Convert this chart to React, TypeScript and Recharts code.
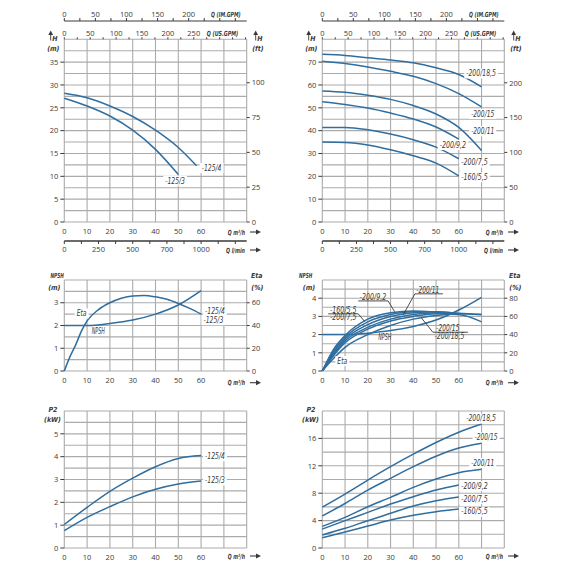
import React from 'react'
import {
  LineChart,
  Line,
  XAxis,
  YAxis,
  CartesianGrid,
  ReferenceDot,
  ReferenceLine,
} from 'recharts'

// flow points Q (m³/h)
const qH125_4 = [0, 10, 20, 30, 40, 50, 58]
const qH125_3 = [0, 10, 20, 30, 40, 50]
const q60 = [0, 10, 20, 30, 40, 50, 60]
const q70 = [0, 10, 20, 30, 40, 50, 60, 70]
const qEtaSmall = [0, 2.5, 5, 7.5, 10, 15, 20, 25, 30, 35, 40, 45, 50, 55, 60]
const qEta60 = [0, 5, 10, 20, 30, 40, 50, 60]
const qEta70 = [0, 5, 10, 20, 30, 40, 50, 60, 70]

// head H (m)
const head125_4 = [28.2, 27.2, 25.4, 23.1, 20.1, 16.3, 12.3]
const head125_3 = [27.1, 25.4, 23.2, 20.1, 15.9, 10.4]
const head200_185 = [73.4, 72.9, 71.9, 70.9, 69.7, 67.5, 64.6, 59.2]
const head200_15 = [70.4, 69.4, 67.9, 66.0, 63.8, 60.6, 56.2, 50.4]
const head200_11 = [57.4, 56.8, 55.5, 53.7, 51.0, 47.3, 41.4, 31.3]
const head200_92 = [52.7, 51.5, 49.9, 47.7, 45.1, 41.6, 36.3]
const head200_75 = [41.4, 41.4, 40.4, 38.5, 36.0, 32.8, 27.7]
const head160_55 = [35.0, 34.8, 33.7, 31.6, 29.0, 25.8, 20.2]

// NPSH (m) and Eta (%)
const npshSmall = [2.0, 2.0, 2.09, 2.24, 2.5, 2.9, 3.53]
const etaSmall = [0, 12.6, 23, 35, 44, 54, 60, 64, 66, 66.4, 65.2, 63, 59.4, 55, 50]
const npshLarge = [2.0, 2.0, 2.08, 2.22, 2.45, 2.8, 3.35, 4.05]
const eta160_55 = [0, 24, 39, 57, 64, 66, 64.5, 62]
const eta200_75 = [0, 22, 37, 54, 62, 65, 65, 63]
const eta200_92 = [0, 20, 35, 51, 60, 64, 65, 63]
const eta200_11 = [0, 18, 33, 48, 57, 62, 64, 63.5, 62]
const eta200_15 = [0, 17, 31, 46, 55, 60, 63, 62, 54]
const eta200_185 = [0, 14, 26, 40, 50, 57, 61, 63, 62]

// P2 (kW)
const p2_125_4 = [1.03, 1.78, 2.48, 3.06, 3.56, 3.92, 4.05]
const p2_125_3 = [0.76, 1.34, 1.81, 2.24, 2.57, 2.8, 2.93]
const p2_200_185 = [5.98, 7.88, 9.92, 11.87, 13.7, 15.4, 16.9, 18.1]
const p2_200_15 = [4.67, 6.5, 8.46, 10.17, 11.87, 13.4, 14.6, 15.3]
const p2_200_11 = [3.16, 4.47, 6.03, 7.39, 8.85, 10.07, 11.0, 11.5]
const p2_200_92 = [2.77, 3.99, 5.2, 6.42, 7.49, 8.46, 9.19]
const p2_200_75 = [1.9, 2.87, 3.99, 5.06, 6.13, 6.9, 7.44]
const p2_160_55 = [1.5, 2.33, 3.2, 4.08, 4.77, 5.3, 5.69]

// axis ticks
const qTicks = [0, 10, 20, 30, 40, 50, 60, 70, 80]
const qLabeled = [0, 10, 20, 30, 40, 50, 60]
const usTicks = [0, 25, 50, 75, 100, 125, 150, 175, 200, 225, 250, 275, 300, 325, 350]
const usLabeled = [0, 50, 100, 150, 200, 250]
const imTicks = [0, 25, 50, 75, 100, 125, 150, 175, 200, 225, 250, 275]
const imLabeled = [0, 50, 100, 150, 200]
const lminTicks = [0, 125, 250, 375, 500, 625, 750, 875, 1000, 1125, 1250]
const lminLabels = ['0', '', '250', '', '500', '', '700', '', '1000', '', '']
const hSmallTicks = [0, 2.5, 5, 7.5, 10, 12.5, 15, 17.5, 20, 22.5, 25, 27.5, 30, 32.5, 35, 37.5, 40]
const hSmallLabeled = [0, 5, 10, 15, 20, 25, 30, 35]
const hLargeTicks = [0, 5, 10, 15, 20, 25, 30, 35, 40, 45, 50, 55, 60, 65, 70, 75, 80]
const hLargeLabeled = [0, 10, 20, 30, 40, 50, 60, 70]
const ftSmallTicks = [0, 25, 50, 75, 100]
const ftLargeTicks = [0, 50, 100, 150, 200]
const npshSmallTicks = [0, 0.5, 1, 1.5, 2, 2.5, 3, 3.5, 4]
const npshSmallLabeled = [0, 1, 2, 3]
const npshLargeTicks = [0, 0.5, 1, 1.5, 2, 2.5, 3, 3.5, 4, 4.5, 5]
const npshLargeLabeled = [0, 1, 2, 3, 4]
const etaSmallTicks = [0, 20, 40, 60]
const etaLargeTicks = [0, 20, 40, 60, 80]
const p2SmallTicks = [0, 0.5, 1, 1.5, 2, 2.5, 3, 3.5, 4, 4.5, 5, 5.5, 6]
const p2SmallLabeled = [0, 1, 2, 3, 4, 5]
const p2LargeTicks = [0, 2, 4, 6, 8, 10, 12, 14, 16, 18, 20]
const p2LargeLabeled = [0, 4, 8, 12, 16]

const BLUE = '#2f6e9f'
const GRID = '#ababab'
const INK = '#3a3a3a'
const NUM_FONT = "'Open Sans', 'DejaVu Sans', sans-serif"
const TAG_FONT = "'DejaVu Sans Condensed', 'Open Sans', sans-serif"

const pts = (q: number[], v: number[]) => q.map((x, i) => ({ q: x, v: v[i] }))
const only = (labeled: number[]) => (v: number) => (labeled.includes(v) ? String(v) : '')

const numText = { fontSize: 7.5, fontFamily: NUM_FONT, fill: INK }

const leftTick = (show: (v: number) => string) => (p: any) => {
  const t = show(p.payload.value)
  if (!t) return <g />
  return (
    <g>
      <line x1={p.x + 2} x2={p.x + 6} y1={p.y} y2={p.y} stroke={INK} />
      <text x={p.x} y={p.y} dy={2.7} textAnchor="end" {...numText}>{t}</text>
    </g>
  )
}

const rightTick = (p: any) => (
  <g>
    <line x1={p.x - 5} x2={p.x - 2} y1={p.y} y2={p.y} stroke={INK} />
    <text x={p.x} y={p.y} dy={2.7} textAnchor="start" {...numText}>{p.payload.value}</text>
  </g>
)

const bottomTick = (show: (v: number) => string) => (p: any) => (
  <text x={p.x} y={p.y} dy={5.3} textAnchor="middle" {...numText}>{show(p.payload.value)}</text>
)

const topTick = (show: (v: number) => string) => (p: any) => (
  <text x={p.x} y={p.y} textAnchor="middle" {...numText}>{show(p.payload.value)}</text>
)

const lminShow = (v: number) => lminLabels[lminTicks.indexOf(v)] ?? ''

const tagShape = (text: string, boxed = true) => (p: any) => {
  const w = text.length * 3.3
  return (
    <g>
      {boxed && <rect x={p.cx - w / 2 - 2} y={p.cy - 5} width={w + 4} height={10} fill="#fff" />}
      <text x={p.cx - w / 2} y={p.cy} dy={2.8} textLength={w} lengthAdjust="spacingAndGlyphs"
        fontSize={8} fontStyle="italic" fontFamily={TAG_FONT} fill={INK}>{text}</text>
    </g>
  )
}

type Series = { q: number[]; v: number[]; axis?: string }
type Tag = { text: string; x: number; y: number; boxed?: boolean }
type Seg = [number, number, number, number]

type PanelProps = {
  left: number
  top: number
  height: number
  mTop: number
  side: 'L' | 'R'
  gpm?: boolean
  yDomain: [number, number]
  yTicks: number[]
  yLabeled: number[]
  right?: { id: string; domain: [number, number]; ticks: number[] }
  series: Series[]
  tags: Tag[]
  segs?: Seg[]
}

// invisible carrier so an extra unit axis gets its ticks laid out
const carrier = (id: string, ticks: number[]) => (
  <Line key={'c' + id} xAxisId={id} data={ticks.map((t) => ({ q: t }))} dataKey="v"
    stroke="none" dot={false} activeDot={false} legendType="none" isAnimationActive={false} />
)

function Panel(p: PanelProps) {
  const leftW = p.side === 'L' ? 64.3 : 37.3
  const rightW = p.side === 'L' ? 38.3 : 65.7
  return (
    <div style={{ position: 'absolute', left: p.left, top: p.top }}>
      <LineChart width={285} height={p.height}
        margin={{ top: p.mTop, right: p.right ? 0 : rightW, bottom: 0, left: 0 }}>
        <CartesianGrid stroke={GRID} strokeWidth={1.1} />
        <XAxis dataKey="q" type="number" domain={[0, 80]} ticks={qTicks} interval={0}
          height={p.gpm ? 19 : 20} axisLine={false} tickLine={false} tickSize={4} tickMargin={3}
          tick={bottomTick(only(qLabeled))} />
        {p.gpm && (
          <XAxis xAxisId="lmin" dataKey="q" type="number" domain={[0, 1333.3]} allowDataOverflow
            ticks={lminTicks} interval={0} height={19} stroke={INK}
            axisLine={{ stroke: INK, strokeWidth: 1.3 }}
            tickSize={3} tickMargin={3} tick={bottomTick(lminShow)} />
        )}
        {p.gpm && (
          <XAxis xAxisId="a_us" dataKey="q" orientation="top" type="number" domain={[0, 352.2]}
            allowDataOverflow ticks={usTicks} interval={0} height={18.3} axisLine={false} stroke={INK}
            tickSize={2} tickMargin={1} tick={topTick(only(usLabeled))} />
        )}
        {p.gpm && (
          <XAxis xAxisId="b_im" dataKey="q" orientation="top" type="number" domain={[0, 293.3]}
            allowDataOverflow ticks={imTicks} interval={0} height={21} stroke={INK}
            axisLine={{ stroke: INK, strokeWidth: 1.1 }}
            tickSize={3} tickMargin={1} tick={topTick(only(imLabeled))} />
        )}
        <YAxis type="number" domain={p.yDomain} ticks={p.yTicks} interval={0} width={leftW}
          axisLine={false} tickLine={false} tickSize={4} tickMargin={2}
          tick={leftTick(only(p.yLabeled))} />
        {p.right && (
          <YAxis yAxisId={p.right.id} orientation="right" type="number" domain={p.right.domain}
            allowDataOverflow ticks={p.right.ticks} interval={0} width={rightW}
            axisLine={false} tickLine={false} tickSize={3} tickMargin={2} tick={rightTick} />
        )}
        {p.gpm && carrier('lmin', lminTicks)}
        {p.gpm && carrier('b_im', imTicks)}
        {p.gpm && carrier('a_us', usTicks)}
        {p.series.map((s, i) => (
          <Line key={i} data={pts(s.q, s.v)} dataKey="v" yAxisId={s.axis ?? 0} type="monotone"
            stroke={BLUE} strokeWidth={1.5} dot={false} activeDot={false} isAnimationActive={false} />
        ))}
        {(p.segs ?? []).map((s, i) => (
          <ReferenceLine key={'s' + i} segment={[{ x: s[0], y: s[1] }, { x: s[2], y: s[3] }]}
            stroke={INK} strokeWidth={0.9} ifOverflow="visible" />
        ))}
        {p.tags.map((t, i) => (
          <ReferenceDot key={'t' + i} x={t.x} y={t.y} r={0} ifOverflow="visible"
            shape={tagShape(t.text, t.boxed ?? true)} />
        ))}
      </LineChart>
    </div>
  )
}

const titleText = { fontSize: 7, fontFamily: TAG_FONT, fontStyle: 'italic' as const, fontWeight: 700, fill: INK }

// title text squeezed to the width it takes in the reference
function Title({ x, y, w, children }: { x: number; y: number; w: number; children: string }) {
  return (
    <text x={x} y={y} textLength={w} lengthAdjust="spacingAndGlyphs" {...titleText}>{children}</text>
  )
}

function Arrow({ x, y }: { x: number; y: number }) {
  return (
    <g>
      <line x1={x} x2={x + 7} y1={y} y2={y} stroke={INK} strokeWidth={1.1} />
      <path d={`M${x + 11},${y} L${x + 6},${y - 2.6} L${x + 6},${y + 2.6} Z`} fill={INK} />
    </g>
  )
}

function UpArrow({ x, y }: { x: number; y: number }) {
  return (
    <g>
      <path d={`M${x},${y} L${x - 2.4},${y + 4.5} L${x + 2.4},${y + 4.5} Z`} fill={INK} />
      <line x1={x} x2={x} y1={y + 4} y2={y + 10} stroke={INK} strokeWidth={0.9} />
    </g>
  )
}

function Titles({ dx }: { dx: number }) {
  return (
    <g>
      <Title x={211 + dx} y={17} w={29.7}>Q (IM.GPM)</Title>
      <Title x={206.7 + dx} y={36} w={31.6}>Q (US.GPM)</Title>
      <UpArrow x={50.7 + dx} y={30.5} />
      <text x={52.3 + dx} y={41} {...titleText}>H</text>
      <text x={53.3 + dx} y={50.5} textAnchor="middle" {...titleText}>(m)</text>
      <UpArrow x={255.7 + dx} y={30.5} />
      <text x={257.3 + dx} y={41} {...titleText}>H</text>
      <text x={258 + dx} y={50.5} textAnchor="middle" {...titleText}>(ft)</text>
      <Title x={227.7 + dx} y={234.7} w={17.3}>Q m³/h</Title>
      <Arrow x={250 + dx} y={232} />
      <Title x={226 + dx} y={252.7} w={19}>Q l/min</Title>
      <Arrow x={250 + dx} y={250} />

      <Title x={(dx ? 41 : 50.5) + dx} y={277.5} w={13.3}>NPSH</Title>
      <text x={(dx ? 51 : 54.3) + dx} y={289.5} textAnchor="middle" {...titleText}>(m)</text>
      <text x={256.7 + dx} y={277.5} textAnchor="middle" {...titleText}>Eta</text>
      <text x={257.3 + dx} y={289.5} textAnchor="middle" {...titleText}>(%)</text>
      <Title x={227.7 + dx} y={385.4} w={17.3}>Q m³/h</Title>
      <Arrow x={250 + dx} y={382.7} />

      <text x={53 + dx} y={412} textAnchor="middle" {...titleText}>P2</text>
      <text x={52.5 + dx} y={422} textAnchor="middle" {...titleText}>(kW)</text>
      <Title x={227.7 + dx} y={558.7} w={17.3}>Q m³/h</Title>
      <Arrow x={250 + dx} y={556} />
    </g>
  )
}

export default function App() {
  return (
    <div style={{ position: 'absolute', left: 0, top: 0, width: 570, height: 570, background: '#fff' }}>
      <Panel left={0} top={0} height={260} mTop={0} side="L" gpm
        yDomain={[0, 40]} yTicks={hSmallTicks} yLabeled={hSmallLabeled}
        right={{ id: 'ft', domain: [0, 131.2], ticks: ftSmallTicks }}
        series={[{ q: qH125_4, v: head125_4 }, { q: qH125_3, v: head125_3 }]}
        tags={[{ text: '-125/4', x: 64.6, y: 11.85 }, { text: '-125/3', x: 48.6, y: 9.04 }]} />
      <Panel left={285} top={0} height={260} mTop={0} side="R" gpm
        yDomain={[0, 80]} yTicks={hLargeTicks} yLabeled={hLargeLabeled}
        right={{ id: 'ft', domain: [0, 262.5], ticks: ftLargeTicks }}
        series={[
          { q: q70, v: head200_185 }, { q: q70, v: head200_15 }, { q: q70, v: head200_11 },
          { q: q60, v: head200_92 }, { q: q60, v: head200_75 }, { q: q60, v: head160_55 },
        ]}
        tags={[
          { text: '-200/18,5', x: 69.8, y: 65 }, { text: '-200/15', x: 70.5, y: 47.3 },
          { text: '-200/11', x: 70.5, y: 39.7 }, { text: '-200/9,2', x: 57.4, y: 33.7 },
          { text: '-200/7,5', x: 66.9, y: 26 }, { text: '-160/5,5', x: 66.9, y: 19.6 },
        ]} />
      <Panel left={0} top={260} height={131} mTop={20} side="L"
        yDomain={[0, 4]} yTicks={npshSmallTicks} yLabeled={npshSmallLabeled}
        right={{ id: 'eta', domain: [0, 80], ticks: etaSmallTicks }}
        series={[{ q: q60, v: npshSmall }, { q: qEtaSmall, v: etaSmall, axis: 'eta' }]}
        tags={[
          { text: '-125/4', x: 66.1, y: 2.63 }, { text: '-125/3', x: 65.4, y: 2.23 },
          { text: 'Eta', x: 7.6, y: 2.53 }, { text: 'NPSH', x: 14.9, y: 1.73, boxed: false },
        ]} />
      <Panel left={285} top={260} height={131} mTop={20} side="R"
        yDomain={[0, 5]} yTicks={npshLargeTicks} yLabeled={npshLargeLabeled}
        right={{ id: 'eta', domain: [0, 100], ticks: etaLargeTicks }}
        series={[
          { q: q70, v: npshLarge },
          { q: qEta60, v: eta160_55, axis: 'eta' }, { q: qEta60, v: eta200_75, axis: 'eta' },
          { q: qEta60, v: eta200_92, axis: 'eta' }, { q: qEta70, v: eta200_11, axis: 'eta' },
          { q: qEta70, v: eta200_15, axis: 'eta' }, { q: qEta70, v: eta200_185, axis: 'eta' },
        ]}
        segs={[
          [40.7, 4.24, 53, 4.24], [40.7, 4.24, 35.5, 3.08],
          [15.8, 3.85, 28.9, 3.85], [28.9, 3.85, 31.8, 3.26],
          [2.6, 3.14, 15.8, 3.14], [15.8, 3.14, 18.7, 2.71],
          [48.6, 2.13, 64, 2.13], [48.6, 2.13, 43.5, 2.93],
        ]}
        tags={[
          { text: '-200/11', x: 46.4, y: 4.46, boxed: false }, { text: '-200/9,2', x: 22.3, y: 4.03, boxed: false },
          { text: '-160/5,5', x: 9.2, y: 3.36, boxed: false }, { text: '-200/7,5', x: 9.2, y: 2.93, boxed: false },
          { text: '-200/15', x: 55.2, y: 2.35, boxed: false }, { text: '-200/18,5', x: 55.9, y: 1.89, boxed: false },
          { text: 'NPSH', x: 27.5, y: 1.83, boxed: false }, { text: 'Eta', x: 8.8, y: 0.55 },
        ]} />
      <Panel left={0} top={400} height={168} mTop={11} side="L"
        yDomain={[0, 6]} yTicks={p2SmallTicks} yLabeled={p2SmallLabeled}
        series={[{ q: q60, v: p2_125_4 }, { q: q60, v: p2_125_3 }]}
        tags={[{ text: '-125/4', x: 66.1, y: 4.02 }, { text: '-125/3', x: 66.1, y: 2.96 }]} />
      <Panel left={285} top={400} height={168} mTop={11} side="R"
        yDomain={[0, 20]} yTicks={p2LargeTicks} yLabeled={p2LargeLabeled}
        series={[
          { q: q70, v: p2_200_185 }, { q: q70, v: p2_200_15 }, { q: q70, v: p2_200_11 },
          { q: q60, v: p2_200_92 }, { q: q60, v: p2_200_75 }, { q: q60, v: p2_160_55 },
        ]}
        tags={[
          { text: '-200/18,5', x: 69.8, y: 18.9 }, { text: '-200/15', x: 72, y: 16.15 },
          { text: '-200/11', x: 70.5, y: 12.4 }, { text: '-200/9,2', x: 66.9, y: 9.05 },
          { text: '-200/7,5', x: 66.9, y: 7.15 }, { text: '-160/5,5', x: 66.9, y: 5.3 },
        ]} />
      <svg width={570} height={570} style={{ position: 'absolute', left: 0, top: 0, pointerEvents: 'none' }}>
        <Titles dx={0} />
        <Titles dx={258} />
      </svg>
    </div>
  )
}
